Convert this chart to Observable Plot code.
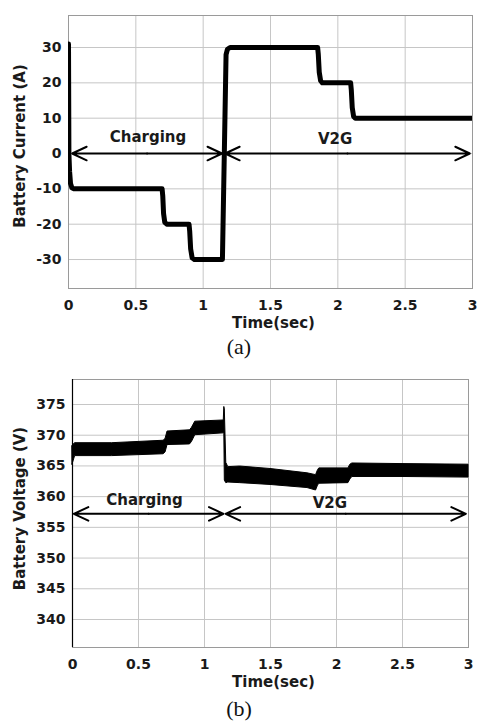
<!DOCTYPE html>
<html><head><meta charset="utf-8">
<script src="https://cdn.jsdelivr.net/npm/d3@7"></script>
<script src="https://cdn.jsdelivr.net/npm/@observablehq/plot@0.6"></script>
<style>
body{margin:0;background:#fff;}
#wrap{position:relative;width:478px;height:724px;overflow:hidden;background:#fff;}
.panel{position:absolute;left:0;}
.cap{position:absolute;left:0;width:478px;text-align:center;font-family:"Liberation Serif","Times New Roman",serif;font-size:22px;line-height:22px;color:#111;}
</style></head><body>
<div id="wrap"></div>
<script>
// ---- data ----
const timeTicks = [0, 0.5, 1, 1.5, 2, 2.5, 3];
const currentTicks = [-30, -20, -10, 0, 10, 20, 30];
const voltageTicks = [340, 345, 350, 355, 360, 365, 370, 375];

// Battery current (A) vs time (s)
const currentT = [0, 0.003, 0.008, 0.015, 0.025, 0.04, 0.695, 0.700, 0.706, 0.715, 0.73, 0.895, 0.900, 0.907, 0.918, 0.935, 1.143, 1.157, 1.170, 1.180, 1.20, 1.85, 1.855, 1.862, 1.872, 1.885, 2.095, 2.100, 2.107, 2.117, 2.13, 3.0];
const currentA = [31, 0, -5, -8.5, -9.7, -10, -10, -12, -17, -19.5, -20, -20, -22, -27, -29.5, -30, -30, 0, 28, 29.5, 30, 30, 28, 23, 20.6, 20, 20, 18, 13, 10.5, 10, 10];

// Battery voltage (V) ripple envelope vs time (s)
const voltT    = [0,     0.02,  0.30,  0.69,  0.705, 0.72,  0.89,  0.905, 0.93,  1.146, 1.150, 1.154, 1.165, 1.18,  1.27,  1.50,  1.78,  1.845, 1.86,  1.87,  2.09,  2.105, 2.12,  2.50,  3.0];
const voltLow  = [365.2, 366.6, 366.6, 366.9, 367.2, 368.4, 368.5, 368.9, 370.0, 370.3, 370.6, 362.6, 362.2, 362.3, 362.2, 361.9, 361.4, 361.0, 361.8, 362.1, 362.2, 362.8, 363.2, 363.2, 363.1];
const voltHigh = [368.3, 368.7, 368.7, 369.1, 369.4, 370.6, 370.8, 371.2, 372.2, 372.4, 374.6, 374.2, 365.5, 364.8, 364.9, 364.5, 363.8, 363.5, 364.3, 364.6, 364.6, 365.2, 365.4, 365.3, 365.2];

// Mode annotations
const modeNames = ["Charging", "V2G"];
const modeStartA = [0.027, 1.163], modeEndA = [1.14, 2.98];
const modeStartB = [0.01, 1.16],  modeEndB = [1.144, 2.98];
const modeLabelTA = [0.59, 1.98], modeLabelTB = [0.545, 1.95];
const arrowLevelA = 0, labelLevelA = [4.5, 4.0];
const arrowLevelB = 357.2, labelLevelB = [359.5, 359.0];

// ---- build ----
const currentData = currentT.map((t, i) => ({t, v: currentA[i]}));
const voltData = voltT.map((t, i) => ({t, lo: voltLow[i], hi: voltHigh[i]}));

function halfArrows(starts, ends, level) {
  const out = [];
  starts.forEach((s, i) => {
    const m = (s + ends[i]) / 2;
    out.push({x1: m, x2: s, y: level});
    out.push({x1: m, x2: ends[i], y: level});
  });
  return out;
}

const fontStyle = {fontFamily: "DejaVu Sans, sans-serif", fontSize: "14px", fontWeight: "bold", color: "#1a1a1a", background: "white", overflow: "visible"};

function commonMarks(yTicks, yLabel, labelDx, labelDy) {
  return [
    Plot.gridX(timeTicks, {stroke: "#c6c6c6", strokeOpacity: 1}),
    Plot.gridY(yTicks, {stroke: "#c6c6c6", strokeOpacity: 1}),
    Plot.frame({stroke: "#9a9a9a"}),
    Plot.axisX({ticks: timeTicks, tickSize: 0, tickPadding: 12, label: null, tickFormat: d => String(d)}),
    Plot.axisY({ticks: yTicks, tickSize: 0, tickPadding: 7, label: null, tickFormat: d => String(d)}),
    Plot.text(["Time(sec)"], {frameAnchor: "bottom", dy: 39, dx: 3, fontSize: 15}),
    Plot.text([yLabel], {frameAnchor: "left", textAnchor: "middle", rotate: -90, dx: labelDx, dy: labelDy, fontSize: 15})
  ];
}

function modeMarks(starts, ends, level, labelT, labelLevels) {
  return [
    Plot.arrow(halfArrows(starts, ends, level), {x1: "x1", x2: "x2", y1: "y", y2: "y", stroke: "black", strokeWidth: 2, headLength: 12, headAngle: 50}),
    Plot.text(modeNames, {x: (d, i) => labelT[i], y: (d, i) => labelLevels[i], fontSize: 15, fill: "#1a1a1a"})
  ];
}

const chartA = Plot.plot({
  width: 478, height: 335,
  marginLeft: 68, marginRight: 6, marginTop: 15, marginBottom: 47,
  style: fontStyle,
  x: {domain: [0, 3], axis: null},
  y: {domain: [-38.2, 39.06], axis: null},
  marks: [
    ...commonMarks(currentTicks, "Battery Current (A)", -48, -6),
    Plot.line(currentData, {x: "t", y: "v", stroke: "black", strokeWidth: 5, strokeLinejoin: "round", clip: true}),
    ...modeMarks(modeStartA, modeEndA, arrowLevelA, modeLabelTA, labelLevelA)
  ]
});

const chartB = Plot.plot({
  width: 478, height: 334,
  marginLeft: 72, marginRight: 10, marginTop: 17, marginBottom: 49,
  style: fontStyle,
  x: {domain: [0, 3], axis: null},
  y: {domain: [335.44, 379.07], axis: null},
  marks: [
    ...commonMarks(voltageTicks, "Battery Voltage (V)", -52, -5),
    Plot.ruleX([0], {stroke: "black", strokeWidth: 1.2}),
    Plot.areaY(voltData, {x: "t", y1: "lo", y2: "hi", fill: "black", stroke: "black", strokeWidth: 1}),
    ...modeMarks(modeStartB, modeEndB, arrowLevelB, modeLabelTB, labelLevelB)
  ]
});

const wrap = document.getElementById("wrap");
chartA.classList.add("panel"); chartA.style.top = "0px";
chartB.classList.add("panel"); chartB.style.top = "362px";
wrap.appendChild(chartA);
const capA = document.createElement("div"); capA.className = "cap"; capA.style.top = "336px"; capA.textContent = "(a)";
wrap.appendChild(capA);
wrap.appendChild(chartB);
const capB = document.createElement("div"); capB.className = "cap"; capB.style.top = "698px"; capB.textContent = "(b)";
wrap.appendChild(capB);
</script>
</body></html>
